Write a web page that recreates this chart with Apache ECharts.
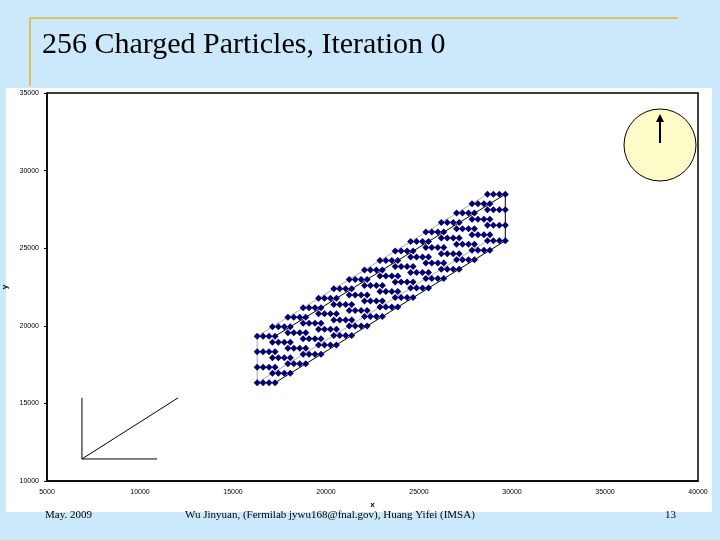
<!DOCTYPE html>
<html>
<head>
<meta charset="utf-8">
<script src="https://cdn.jsdelivr.net/npm/echarts@6/dist/echarts.min.js"></script>
<style>
html,body{margin:0;padding:0;background:#cce9fb;}
#main{width:720px;height:540px;}
</style>
</head>
<body>
<div id="main"></div>
<script>
// lattice: 16 diagonal layers, 4 rows each, 4 particles per row
var layerX = [16300, 17120, 17950, 18770, 19600, 20420, 21250, 22070, 22900, 23720, 24550, 25370, 26200, 27020, 27850, 28680];
var layerY = [16330, 16940, 17550, 18160, 18770, 19380, 19990, 20600, 21210, 21820, 22430, 23040, 23650, 24260, 24870, 25480];
var rowOffsets = [0, 1000, 2000, 3000];
var dotOffsets = [0, 320, 640, 960];
// axes sketch in lower left
var sketchV = [[6880, 15360], [6880, 11420]];
var sketchH = [[6880, 11420], [10920, 11420]];
var sketchD = [[6880, 11420], [12050, 15360]];

var particles = [];
for (var k = 0; k < layerX.length; k++) {
    for (var r = 0; r < rowOffsets.length; r++) {
        for (var d = 0; d < dotOffsets.length; d++) {
            particles.push([layerX[k] + dotOffsets[d], layerY[k] + rowOffsets[r]]);
        }
    }
}
var n = layerX.length - 1;
var xe = dotOffsets[dotOffsets.length - 1];
var ye = rowOffsets[rowOffsets.length - 1];
var bottomEdge = [[layerX[0] + xe, layerY[0]], [layerX[n] + xe, layerY[n]]];
var midEdge = [[layerX[0] + xe, layerY[0] + ye], [layerX[n] + xe, layerY[n] + ye]];
var topEdge = [[layerX[0], layerY[0] + ye], [layerX[n], layerY[n] + ye]];
var lowEdge = [[layerX[0], layerY[0]], [layerX[n], layerY[n]]];
var rightEdge = [[layerX[n] + xe, layerY[n]], [layerX[n] + xe, layerY[n] + ye]];
var leftEdge = [[layerX[0], layerY[0]], [layerX[0], layerY[0] + ye]];

function seg(data, color) {
    return { type: 'line', data: data, symbol: 'none', silent: true,
        lineStyle: { color: color, width: 1 }, z: 1 };
}

var chart = echarts.init(document.getElementById('main'));
chart.setOption({
    backgroundColor: '#cce9fb',
    animation: false,
    grid: { left: 47, right: 22, top: 93, bottom: 59, containLabel: false, outerBoundsMode: 'none' },
    xAxis: {
        type: 'value', min: 5000, max: 40000, interval: 5000,
        name: 'x', nameLocation: 'middle', nameGap: 18,
        nameTextStyle: { fontSize: 8, color: '#000', fontWeight: 'bold' },
        axisLine: { lineStyle: { color: '#000', width: 1.5 } },
        axisTick: { show: false }, splitLine: { show: false },
        axisLabel: { fontSize: 7, color: '#000', fontFamily: 'Arial', formatter: function (v) { return String(v); } }
    },
    yAxis: {
        type: 'value', min: 10000, max: 35000, interval: 5000,
        name: 'y', nameLocation: 'middle', nameGap: 36,
        nameTextStyle: { fontSize: 8, color: '#000', fontWeight: 'bold' },
        axisLine: { lineStyle: { color: '#000', width: 1.5 } },
        axisTick: { show: true, length: 3 }, splitLine: { show: false },
        axisLabel: { fontSize: 7, color: '#000', fontFamily: 'Arial', formatter: function (v) { return String(v); } }
    },
    graphic: [
        { type: 'rect', z: -10, shape: { x: 6, y: 88, width: 706, height: 424 }, style: { fill: '#fff' } },
        { type: 'rect', z: -5, shape: { x: 47, y: 93, width: 651, height: 388 }, style: { fill: 'none', stroke: '#000', lineWidth: 1.5 } },
        { type: 'line', shape: { x1: 30, y1: 18, x2: 678, y2: 18 }, style: { stroke: '#e0c060', lineWidth: 2 } },
        { type: 'line', shape: { x1: 30, y1: 18, x2: 30, y2: 86 }, style: { stroke: '#e0c060', lineWidth: 2 } },
        { type: 'text', left: 42, top: 30, style: { text: '256 Charged Particles, Iteration 0', fontFamily: 'Liberation Serif', fontSize: 30, fill: '#000' } },
        { type: 'circle', shape: { cx: 660, cy: 145, r: 36 }, style: { fill: '#fdfbc8', stroke: '#000', lineWidth: 1 } },
        { type: 'line', shape: { x1: 660, y1: 143, x2: 660, y2: 117 }, style: { stroke: '#000', lineWidth: 2 } },
        { type: 'polygon', shape: { points: [[660, 114], [656, 122], [664, 122]] }, style: { fill: '#000' } },
        { type: 'text', left: 45, top: 510, style: { text: 'May. 2009', fontFamily: 'Liberation Serif', fontSize: 11, fill: '#000' } },
        { type: 'text', left: 185, top: 510, style: { text: 'Wu Jinyuan, (Fermilab jywu168@fnal.gov), Huang Yifei (IMSA)', fontFamily: 'Liberation Serif', fontSize: 11, fill: '#000' } },
        { type: 'text', left: 665, top: 510, style: { text: '13', fontFamily: 'Liberation Serif', fontSize: 11, fill: '#000' } }
    ],
    series: [
        seg(topEdge, '#aaa'), seg(lowEdge, '#aaa'), seg(leftEdge, '#aaa'),
        seg(bottomEdge, '#000'), seg(midEdge, '#000'), seg(rightEdge, '#000'),
        seg(sketchV, '#000'), seg(sketchH, '#000'), seg(sketchD, '#000'),
        {
            type: 'scatter', data: particles, symbol: 'diamond', symbolSize: 7,
            itemStyle: { color: '#000070', opacity: 1 }, z: 3
        }
    ]
});
</script>
</body>
</html>
